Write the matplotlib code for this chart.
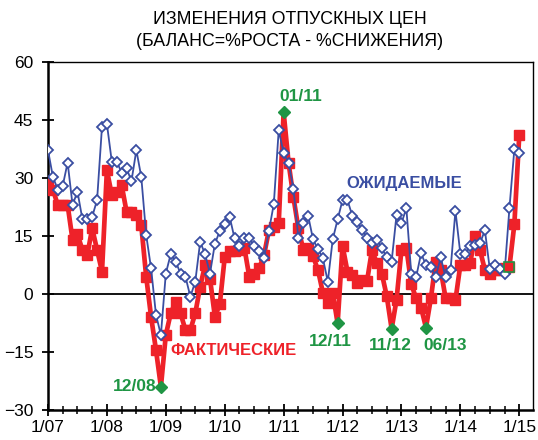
import matplotlib
matplotlib.use("Agg")
import matplotlib.pyplot as plt

plt.rcParams['font.family'] = ['Liberation Sans', 'DejaVu Sans']

# monthly data, 1/07 .. 1/15
actual = [29, 27, 23, 23, 23, 14, 15.5, 11.4, 10, 17, 11.4, 5.8,
          32, 25.6, 26.5, 28.2, 21.3, 21.3, 20.4, 17.8, 4.5, -5.9, -14.5, -24,
          -10.6, -5, -2, -5, -9.3, -9.3, -5, 1.9, 7.5, 4, -5.9, -2.6,
          9.5, 11, 11, 11.5, 12, 4.5, 5.3, 6.6, 10, 16.5, 17.4, 18.3,
          47, 34, 25, 17, 11.4, 12, 9.7, 6.2, 0.3, -2.4, 0.3, -7.6,
          12.5, 5.8, 5, 2.8, 3.6, 3.4, 11.4, 7.9, 5.3, -0.5, -9, -1.5,
          11.4, 12, 2.5, -1.1, -3.5, -8.7, -1.1, 8.4, 6.2, -1.1, -1.1, -1.6,
          7.5, 7.5, 8, 15, 11.4, 6.2, 5.3, 6.2, 6.2, 6.6, 7, 18,
          41]
expected = [37.2, 30.3, 27, 28, 34, 23, 26.5, 19.4, 19.4, 20, 24.3, 43.3,
            44, 34.2, 34.2, 31.4, 32.5, 29.2, 37.2, 30.3, 15.3, 6.6, -5.4, -10.6,
            5.3, 10.3, 8.4, 5.3, 4.5, -0.7, 3.2, 13.5, 10.3, 5.3, 13, 16.3,
            18, 20, 14.4, 12.4, 14.4, 14.4, 12.4, 11.1, 9.2, 16.3, 23.3, 42.4,
            36.4, 34, 27.2, 14.5, 18.4, 20.2, 14.1, 11.6, 9.2, 3.2, 14.1, 19.3,
            24.3, 24.3, 20.2, 18.7, 16.6, 14.6, 13.3, 14, 11.8, 9.5, 8.4, 20.4,
            18.3, 22.2, 5.3, 4.4, 10.5, 7.5, 7.1, 4.5, 9.5, 4.3, 6.2, 21.5,
            10.4, 10.4, 12.3, 12.7, 13.1, 16.5, 6.4, 7.5, 6.4, 5.3, 22.2, 37.4,
            36.4]
months = list(range(len(actual)))

year_labels = ["1/07", "1/08", "1/09", "1/10", "1/11", "1/12", "1/13", "1/14", "1/15"]
year_ticks = [0, 12, 24, 36, 48, 60, 72, 84, 96]

# highlighted points: (month index, label)
marks = [(23, "12/08"), (48, "01/11"), (59, "12/11"), (70, "11/12"), (77, "06/13")]
mark_idx = [m for m, _ in marks]

red = "#ee2229"
blue = "#3a4ea2"
green = "#1f9544"

fig = plt.figure(figsize=(5.38, 4.40), dpi=100)
ax = fig.add_axes([48/538, 1-410/440, (533-48)/538, (410-62)/440])

red_marks = [i for i in months if i not in mark_idx]
ax.plot(months, actual, color=red, lw=3.4, marker="s", ms=7, mec=red, mfc=red,
        markevery=red_marks, zorder=3)
ax.plot(months, expected, color=blue, lw=1.3, marker="D", ms=5, mec=blue, mfc="white",
        mew=1.3, zorder=4)
# green-edged last "actual" square
ax.plot(months[94], actual[94], marker="s", ms=7, mfc=red, mec=green, mew=1.2, zorder=5)

for m, lab in marks:
    ax.plot(m, actual[m], marker="D", ms=6, color=green, zorder=6)

ax.text(22.2, -24, "12/08", color=green, fontsize=12.5, fontweight="bold", ha="right", va="center")
ax.text(51.5, 51, "01/11", color=green, fontsize=12.5, fontweight="bold", ha="center", va="center")
ax.text(57.6, -12.3, "12/11", color=green, fontsize=12.5, fontweight="bold", ha="center", va="center")
ax.text(69.7, -13.2, "11/12", color=green, fontsize=12.5, fontweight="bold", ha="center", va="center")
ax.text(80.9, -13.2, "06/13", color=green, fontsize=12.5, fontweight="bold", ha="center", va="center")

ax.text(72.5, 28.7, "ОЖИДАЕМЫЕ", color=blue, fontsize=12, fontweight="bold", ha="center", va="center")
ax.text(37.7, -14.7, "ФАКТИЧЕСКИЕ", color=red, fontsize=12, fontweight="bold", ha="center", va="center")

ax.axhline(0, color="black", lw=1.3, zorder=2)

ax.set_xlim(0, 98.8)
ax.set_ylim(-30, 60)
ax.set_yticks([-30, -15, 0, 15, 30, 45, 60])
ax.set_xticks(year_ticks)
ax.set_xticklabels(year_labels)
ax.set_xticks(range(0, 99, 3), minor=True)
ax.tick_params(axis="both", which="major", direction="inout", length=9, width=1.3,
               labelsize=12.5, pad=3)
ax.tick_params(axis="x", which="minor", direction="inout", length=6, width=1.1)
ax.tick_params(axis="y", which="major", pad=6)

for s in ["left", "bottom"]:
    ax.spines[s].set_linewidth(1.8)
for s in ["top", "right"]:
    ax.spines[s].set_linewidth(1.0)

fig.text(290/538, 1-20/440, "ИЗМЕНЕНИЯ ОТПУСКНЫХ ЦЕН", ha="center", va="center", fontsize=12.8)
fig.text(290/538, 1-42/440, "(БАЛАНС=%РОСТА - %СНИЖЕНИЯ)", ha="center", va="center", fontsize=12.8)

fig.savefig("out.png", dpi=100)
